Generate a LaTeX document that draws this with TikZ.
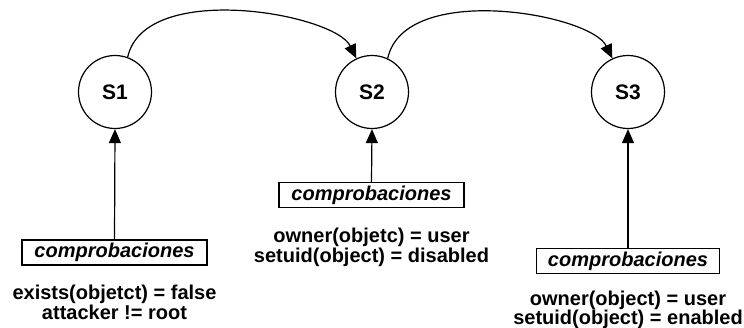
\documentclass[tikz,border=0pt]{standalone}
\usepackage{fontspec}
\setmainfont{Liberation Sans}
\usetikzlibrary{arrows.meta}
\begin{document}
\begin{tikzpicture}[x=1pt,y=1pt,
  every path/.style={line width=1.2pt},
  state/.style={draw,circle,minimum size=73pt,inner sep=0pt,font=\fontsize{21}{24}\selectfont\bfseries},
  checkbox/.style={draw,rectangle,minimum width=185pt,minimum height=25pt,inner sep=0pt,font=\fontsize{20}{22}\selectfont\bfseries\itshape},
  cond/.style={anchor=base,inner sep=0pt,font=\fontsize{20}{22}\selectfont\bfseries},
  arr/.style={-{Triangle[width=12pt,length=14pt]}}]
\useasboundingbox (0,0) rectangle (744,327);
\node[state] (s1) at (115,235) {S1};
\node[state] (s2) at (372,235) {S2};
\node[state] (s3) at (628,235) {S3};
\node[checkbox] (b1) at (114.5,74.5) {comprobaciones};
\node[checkbox] (b2) at (371.5,132) {comprobaciones};
\node[checkbox,minimum width=183pt] (b3) at (628,66) {comprobaciones};
\node[cond] (t1a) at (114.5,28) {exists(objetct) = false};
\node[cond] (t1b) at (114.5,8) {attacker != root};
\node[cond] (t2a) at (371.5,85) {owner(objetc) = user};
\node[cond] (t2b) at (371.5,65) {setuid(object) = disabled};
\node[cond] (t3a) at (628,22) {owner(object) = user};
\node[cond] (t3b) at (628,3) {setuid(object) = enabled};
\draw[arr] (b1.north) -- (s1.south);
\draw[arr] (b2.north) -- (s2.south);
\draw[arr] (b3.north) -- (s3.south);
\draw[arr] (s1.70) .. controls +(17,77) and +(-22,45) .. (s2.115);
\draw[arr] (s2.65) .. controls +(17,77) and +(-22,45) .. (s3.115);
\end{tikzpicture}
\end{document}
